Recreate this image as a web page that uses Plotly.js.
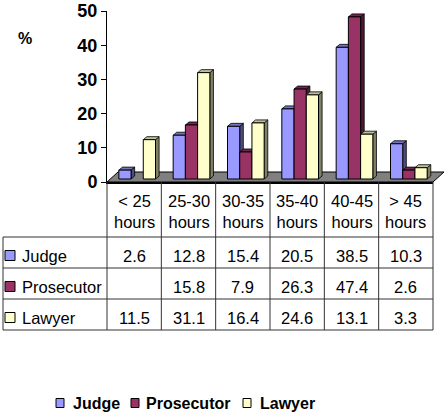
<!DOCTYPE html>
<html><head><meta charset="utf-8">
<script src="https://cdn.plot.ly/plotly-3.0.1.min.js"></script>
<style>html,body{margin:0;padding:0;background:#fff}#chart{width:445px;height:418px}</style>
</head><body><div id="chart"></div>
<script>
// ---- data ----
const categories = ['< 25 hours', '25-30 hours', '30-35 hours', '35-40 hours', '40-45 hours', '> 45 hours'];
const seriesNames = ['Judge', 'Prosecutor', 'Lawyer'];
const judge = [2.6, 12.8, 15.4, 20.5, 38.5, 10.3];
const prosecutor = [null, 15.8, 7.9, 26.3, 47.4, 2.6];
const lawyer = [11.5, 31.1, 16.4, 24.6, 13.1, 3.3];
const yTicks = [0, 10, 20, 30, 40, 50];
const yAxisLabel = '%';

// ---- styling ----
const FONT = '"Liberation Sans", Arial, Helvetica, sans-serif';
const TABLE_FS = 16.5;
const colors = {
  Judge: {front: '#9999FF', top: '#7373BF', side: '#4D4D80'},
  Prosecutor: {front: '#993366', top: '#73264D', side: '#4D1A33'},
  Lawyer: {front: '#FFFFCC', top: '#BFBF99', side: '#808066'}
};
const seriesValues = [judge, prosecutor, lawyer];

const W = 445, H = 418;
const PL = 107, PR = 433, PT = 11, PB = 182;
const xRange = [-0.5, categories.length - 0.5];
const yRange = [yTicks[0], yTicks[yTicks.length - 1]];
const pxPerX = (PR - PL) / (xRange[1] - xRange[0]);
const pxPerY = (PB - PT) / (yRange[1] - yRange[0]);
const px2x = px => (px - PL) / (PR - PL);
const py2y = py => (PB - py) / (PB - PT);

// bar plane shift (mid-depth) and face depth
const SX = 3 / pxPerX, SY = 3 / pxPerY;
const DX = 3.6 / pxPerX, DY = 3 / pxPerY;
const GAP = 0.325;
const BW = (1 - GAP) / seriesNames.length;

const traces = [];
traces.push({type: 'scatter', x: [], y: [], xaxis: 'x', yaxis: 'y', showlegend: false, hoverinfo: 'skip'});

// side & top faces, painter's order left to right
for (let i = 0; i < categories.length; i++) {
  seriesNames.forEach((name, k) => {
    const v = seriesValues[k][i];
    if (v == null) return;
    const x0 = i - (1 - GAP) / 2 + k * BW, x1 = x0 + BW;
    traces.push({type: 'scatter', mode: 'lines', xaxis: 'x2', yaxis: 'y2',
      x: [x1, x1 + DX, x1 + DX, x1, x1], y: [0, DY, v + DY, v, 0],
      fill: 'toself', fillcolor: colors[name].side, line: {color: '#000', width: 0.8},
      showlegend: false, hoverinfo: 'skip'});
    traces.push({type: 'scatter', mode: 'lines', xaxis: 'x2', yaxis: 'y2',
      x: [x0, x0 + DX, x1 + DX, x1, x0], y: [v, v + DY, v + DY, v, v],
      fill: 'toself', fillcolor: colors[name].top, line: {color: '#000', width: 0.8},
      showlegend: false, hoverinfo: 'skip'});
  });
}
// front faces
seriesNames.forEach((name, k) => {
  traces.push({type: 'bar', name: name, xaxis: 'x3', yaxis: 'y3',
    x: categories.map((c, i) => i), y: seriesValues[k],
    marker: {color: colors[name].front, line: {color: '#000', width: 1}},
    showlegend: false, hoverinfo: 'skip'});
});

const shapes = [];
const annotations = [];
// floor
const fl = [[PL, PB], [PR, PB], [PR + 11, PB - 10], [PL + 11, PB - 10]];
shapes.push({type: 'path', xref: 'paper', yref: 'paper', layer: 'below',
  path: 'M' + fl.map(p => px2x(p[0]) + ',' + py2y(p[1])).join(' L') + ' Z',
  fillcolor: '#808080', line: {color: '#000', width: 1}});

// table grid
const LINE = {color: '#333', width: 1};
const rowTops = [237, 268, 299, 330];
const tableLeft = 3;
for (let k = 0; k <= categories.length; k++) {
  const xp = (k - 0.5 - xRange[0]) / (xRange[1] - xRange[0]);
  shapes.push({type: 'line', xref: 'paper', yref: 'paper', x0: xp, x1: xp, y0: py2y(PB), y1: py2y(330), line: LINE});
}
shapes.push({type: 'line', xref: 'paper', yref: 'paper', x0: px2x(tableLeft), x1: px2x(tableLeft), y0: py2y(237), y1: py2y(330), line: LINE});
rowTops.forEach(py => {
  shapes.push({type: 'line', xref: 'paper', yref: 'paper', x0: px2x(tableLeft), x1: 1, y0: py2y(py), y1: py2y(py), line: LINE});
});

// header labels
categories.forEach((c, i) => {
  const idx = c.lastIndexOf(' ');
  annotations.push({xref: 'x', yref: 'paper', x: i, y: py2y(211.5), showarrow: false,
    text: c.slice(0, idx) + '<br>' + c.slice(idx + 1), font: {family: FONT, size: TABLE_FS, color: '#000'},
    xanchor: 'center', yanchor: 'middle', align: 'center'});
});
// rows
seriesNames.forEach((name, k) => {
  const top = rowTops[k], cy = top + 18.5;
  shapes.push({type: 'rect', xref: 'paper', yref: 'paper', x0: px2x(5), x1: px2x(15), y0: py2y(cy - 5), y1: py2y(cy + 5),
    fillcolor: colors[name].front, line: {color: '#000', width: 1}});
  annotations.push({xref: 'paper', yref: 'paper', x: px2x(20), y: py2y(cy), showarrow: false, text: name,
    font: {family: FONT, size: TABLE_FS, color: '#000'}, xanchor: 'left', yanchor: 'middle'});
  seriesValues[k].forEach((v, i) => {
    if (v == null) return;
    annotations.push({xref: 'x', yref: 'paper', x: i, y: py2y(cy), showarrow: false, text: v.toFixed(1),
      font: {family: FONT, size: TABLE_FS, color: '#000'}, xanchor: 'center', yanchor: 'middle'});
  });
});

// y-axis label
annotations.push({xref: 'paper', yref: 'paper', x: px2x(25), y: py2y(38), showarrow: false, text: yAxisLabel,
  font: {family: FONT, size: 16, color: '#000', weight: 'bold'}, xanchor: 'center', yanchor: 'middle'});

// bottom legend
const legendX = [[56, 71], [131, 144], [243, 258]];
seriesNames.forEach((name, k) => {
  const cy = 403;
  shapes.push({type: 'rect', xref: 'paper', yref: 'paper', x0: px2x(legendX[k][0]), x1: px2x(legendX[k][0] + 8),
    y0: py2y(cy - 4.5), y1: py2y(cy + 4.5), fillcolor: colors[name].front, line: {color: '#000', width: 1}});
  annotations.push({xref: 'paper', yref: 'paper', x: px2x(legendX[k][1]), y: py2y(cy), showarrow: false, text: name,
    font: {family: FONT, size: 16, color: '#000', weight: 'bold'}, xanchor: 'left', yanchor: 'middle'});
});

const hidden = {visible: false, showgrid: false, zeroline: false, fixedrange: true};
const layout = {
  width: W, height: H,
  margin: {l: PL, r: W - PR, t: PT, b: H - PB, pad: 0},
  paper_bgcolor: '#fff', plot_bgcolor: 'rgba(0,0,0,0)',
  showlegend: false,
  barmode: 'group', bargap: GAP, bargroupgap: 0,
  font: {family: FONT, color: '#000'},
  xaxis: {range: xRange, showline: true, linecolor: '#000', linewidth: 1.5, showticklabels: false,
    ticks: '', showgrid: false, zeroline: false, fixedrange: true},
  yaxis: {range: yRange, tickvals: yTicks, ticktext: yTicks.map(String), ticks: 'outside', ticklen: 5,
    tickcolor: '#000', showline: true, linecolor: '#000', linewidth: 1, showgrid: false, zeroline: false,
    tickfont: {family: FONT, size: 18, color: '#000', weight: 'bold'}, fixedrange: true},
  xaxis2: Object.assign({overlaying: 'x', anchor: 'y2', range: [xRange[0] - SX, xRange[1] - SX]}, hidden),
  yaxis2: Object.assign({overlaying: 'y', anchor: 'x2', range: [yRange[0] - SY, yRange[1] - SY]}, hidden),
  xaxis3: Object.assign({overlaying: 'x', anchor: 'y3', range: [xRange[0] - SX, xRange[1] - SX]}, hidden),
  yaxis3: Object.assign({overlaying: 'y', anchor: 'x3', range: [yRange[0] - SY, yRange[1] - SY]}, hidden),
  shapes: shapes, annotations: annotations
};
Plotly.newPlot('chart', traces, layout, {staticPlot: true, displayModeBar: false});
</script>
</body></html>
